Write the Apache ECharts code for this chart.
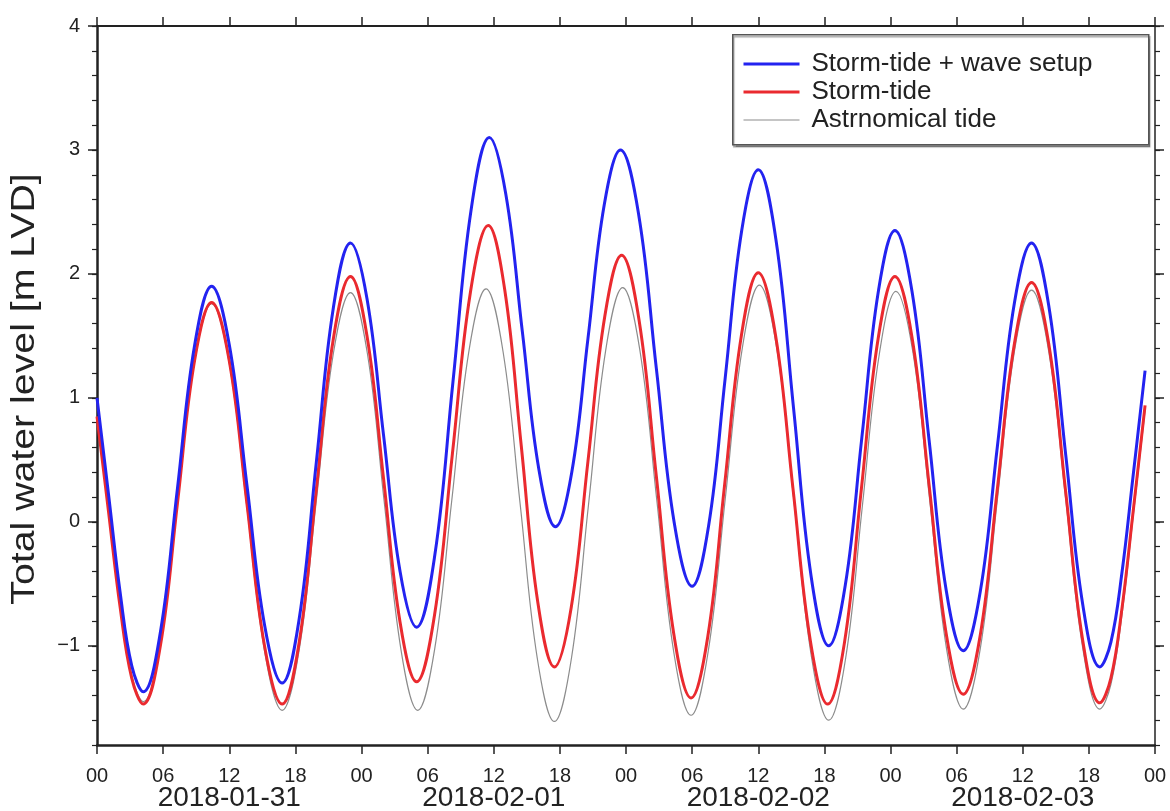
<!DOCTYPE html>
<html>
<head>
<meta charset="utf-8">
<title>Total water level</title>
<script src="https://cdn.jsdelivr.net/npm/echarts@6/dist/echarts.min.js"></script>
<style>
  html, body { margin: 0; padding: 0; background: #fff; }
  #chart { width: 1170px; height: 811px; }
</style>
</head>
<body>
<div id="chart"></div>
<script>
// Hours since 2018-01-31 00:00 and water levels [m LVD] for each series
const setupHours = [0, 1.05, 2.1, 3.15, 4.2, 5.75, 7.3, 8.85, 10.4, 12.0, 13.6, 15.2, 16.8, 18.35, 19.9, 21.45, 23.0,
  24.5, 26.0, 27.5, 29.0, 30.65, 32.3, 33.95, 35.6, 37.1, 38.6, 40.1, 41.6, 43.08, 44.55, 46.03, 47.5,
  49.13, 50.75, 52.38, 54.0, 55.5, 57.0, 58.5, 60.0, 61.6, 63.2, 64.8, 66.4, 67.9, 69.4, 70.9, 72.4,
  73.95, 75.5, 77.05, 78.6, 80.15, 81.7, 83.25, 84.8, 86.35, 87.9, 89.45, 91.0, 92.0, 93.0, 94.0, 95.1];
const setupLevels = [1.00, 0.22, -0.57, -1.16, -1.37, -0.89, 0.27, 1.42, 1.90, 1.43, 0.30, -0.83, -1.30, -0.78, 0.48, 1.73, 2.25,
  1.80, 0.70, -0.40, -0.85, -0.27, 1.13, 2.52, 3.10, 2.64, 1.53, 0.42, -0.04, 0.40, 1.48, 2.56, 3.00,
  2.49, 1.24, -0.01, -0.52, -0.03, 1.16, 2.35, 2.84, 2.28, 0.92, -0.44, -1.00, -0.51, 0.68, 1.86, 2.35,
  1.86, 0.66, -0.55, -1.04, -0.56, 0.61, 1.77, 2.25, 1.75, 0.54, -0.67, -1.17, -0.97, -0.41, 0.36, 1.22];

const stormHours = [0, 1.05, 2.1, 3.15, 4.2, 5.75, 7.3, 8.85, 10.4, 12.0, 13.6, 15.2, 16.8, 18.35, 19.9, 21.45, 23.0,
  24.5, 26.0, 27.5, 29.0, 30.63, 32.25, 33.88, 35.5, 37.0, 38.5, 40.0, 41.5, 43.03, 44.55, 46.08, 47.6,
  49.18, 50.75, 52.33, 53.9, 55.43, 56.95, 58.48, 60.0, 61.58, 63.15, 64.73, 66.3, 67.83, 69.35, 70.88, 72.4,
  73.95, 75.5, 77.05, 78.6, 80.15, 81.7, 83.25, 84.8, 86.35, 87.9, 89.45, 91.0, 92.0, 93.0, 94.0, 95.1];
const stormLevels = [0.85, 0.08, -0.69, -1.26, -1.47, -1.00, 0.15, 1.30, 1.77, 1.30, 0.15, -1.00, -1.47, -0.97, 0.26, 1.48, 1.98,
  1.50, 0.35, -0.81, -1.29, -0.75, 0.55, 1.85, 2.39, 1.87, 0.61, -0.65, -1.17, -0.69, 0.49, 1.66, 2.15,
  1.63, 0.37, -0.90, -1.42, -0.92, 0.30, 1.51, 2.01, 1.50, 0.27, -0.96, -1.47, -0.97, 0.26, 1.48, 1.98,
  1.49, 0.30, -0.90, -1.39, -0.91, 0.27, 1.44, 1.93, 1.44, 0.24, -0.96, -1.46, -1.26, -0.70, 0.07, 0.94];

const tideHours = [0, 1.05, 2.1, 3.15, 4.2, 5.75, 7.3, 8.85, 10.4, 12.0, 13.6, 15.2, 16.8, 18.35, 19.9, 21.45, 23.0,
  24.53, 26.05, 27.58, 29.1, 30.65, 32.2, 33.75, 35.3, 36.85, 38.4, 39.95, 41.5, 43.05, 44.6, 46.15, 47.7,
  49.25, 50.8, 52.35, 53.9, 55.45, 57.0, 58.55, 60.1, 61.68, 63.25, 64.83, 66.4, 67.93, 69.45, 70.98, 72.5,
  74.03, 75.55, 77.08, 78.6, 80.15, 81.7, 83.25, 84.8, 86.35, 87.9, 89.45, 91.0, 92.0, 93.0, 94.0, 95.1];
const tideLevels = [0.85, 0.09, -0.68, -1.24, -1.45, -0.98, 0.16, 1.29, 1.76, 1.28, 0.12, -1.04, -1.52, -1.03, 0.17, 1.36, 1.85,
  1.36, 0.17, -1.03, -1.52, -1.02, 0.18, 1.38, 1.88, 1.37, 0.14, -1.10, -1.61, -1.10, 0.14, 1.38, 1.89,
  1.39, 0.17, -1.06, -1.56, -1.05, 0.18, 1.40, 1.91, 1.40, 0.16, -1.09, -1.60, -1.10, 0.13, 1.35, 1.86,
  1.37, 0.18, -1.02, -1.51, -1.02, 0.18, 1.38, 1.87, 1.38, 0.18, -1.02, -1.51, -1.31, -0.75, 0.03, 0.90];

const seriesNames = ['Storm-tide + wave setup', 'Storm-tide', 'Astrnomical tide'];
const dayLabels = ['2018-01-31', '2018-02-01', '2018-02-02', '2018-02-03'];
const levelTicks = [-1, 0, 1, 2, 3, 4];
const yTitle = 'Total water level [m LVD]';

const FONT = '"Liberation Sans", Arial, Helvetica, sans-serif';
const INK = '#222';
const COLORS = ['#2323f0', '#ea2a2f', '#8c8c8c'];
const WIDTHS = [3, 3, 1.2];

function pairs(hours, levels) {
  return hours.map((h, i) => [h, levels[i]]);
}
function hourLabel(v) {
  const h = Math.round(v) % 24;
  return (h < 10 ? '0' : '') + h;
}
function levelLabel(v) {
  return v < 0 ? '\u2212' + Math.abs(v) : String(v);
}

const chart = echarts.init(document.getElementById('chart'), null, { renderer: 'canvas' });

const xBase = { type: 'value', min: 0, max: 96, splitLine: { show: false } };
const yBase = { type: 'value', min: -1.8, max: 4, splitLine: { show: false } };

function lineSeries(idx, hours, levels, z) {
  return {
    name: seriesNames[idx], type: 'line', xAxisIndex: 0, yAxisIndex: 0,
    data: pairs(hours, levels),
    smooth: 0.4, symbol: 'none', showSymbol: false,
    lineStyle: { color: COLORS[idx], width: WIDTHS[idx] }, itemStyle: { color: COLORS[idx] }, z
  };
}

const option = {
  backgroundColor: '#fff',
  animation: false,
  textStyle: { fontFamily: FONT, color: INK },
  grid: { left: 97, right: 15, top: 26, bottom: 66, containLabel: false, outerBoundsMode: 'none' },
  xAxis: [
    Object.assign({}, xBase, {
      position: 'bottom', interval: 6,
      axisLine: { show: true, onZero: false, lineStyle: { color: INK, width: 2.5 } },
      axisTick: { show: true, inside: false, length: 9, lineStyle: { color: INK, width: 1.5 } },
      axisLabel: { show: true, formatter: hourLabel, fontSize: 20, color: INK, margin: 21, fontFamily: FONT,
        showMinLabel: true, showMaxLabel: true }
    }),
    Object.assign({}, xBase, {
      position: 'bottom', interval: 12,
      axisLine: { show: false, onZero: false },
      axisTick: { show: false },
      axisLabel: { show: true, fontSize: 28, color: INK, margin: 39, fontFamily: FONT,
        formatter: v => (Math.round(v) % 24 === 12 ? dayLabels[Math.floor(v / 24)] : '') }
    }),
    Object.assign({}, xBase, {
      position: 'top', interval: 6,
      axisLine: { show: true, onZero: false, lineStyle: { color: INK, width: 2 } },
      axisTick: { show: true, inside: false, length: 9, lineStyle: { color: INK, width: 1.5 } },
      axisLabel: { show: false }
    })
  ],
  yAxis: [
    Object.assign({}, yBase, {
      position: 'left',
      axisLine: { show: true, onZero: false, lineStyle: { color: INK, width: 2.5 } },
      axisTick: { show: true, inside: false, length: 9, customValues: levelTicks, lineStyle: { color: INK, width: 1.5 } },
      axisLabel: { show: true, customValues: levelTicks, formatter: levelLabel, fontSize: 20, color: INK, margin: 17, fontFamily: FONT }
    }),
    Object.assign({}, yBase, {
      position: 'left', interval: 0.2,
      axisLine: { show: false, onZero: false },
      axisTick: { show: true, inside: false, length: 5, lineStyle: { color: INK, width: 1.2 } },
      axisLabel: { show: false }
    }),
    Object.assign({}, yBase, {
      position: 'right',
      axisLine: { show: true, onZero: false, lineStyle: { color: INK, width: 1.5 } },
      axisTick: { show: true, inside: false, length: 9, customValues: levelTicks, lineStyle: { color: INK, width: 1.5 } },
      axisLabel: { show: false }
    }),
    Object.assign({}, yBase, {
      position: 'right', interval: 0.2,
      axisLine: { show: false, onZero: false },
      axisTick: { show: true, inside: false, length: 5, lineStyle: { color: INK, width: 1.2 } },
      axisLabel: { show: false }
    })
  ],
  legend: {
    data: seriesNames.map((name, i) => ({ name, lineStyle: { width: WIDTHS[i], color: COLORS[i] } })),
    orient: 'vertical',
    left: 742, top: 50,
    itemWidth: 56, itemHeight: 12, itemGap: 0,
    padding: 0,
    itemStyle: { opacity: 0 },
    textStyle: { fontSize: 26, color: INK, lineHeight: 28, padding: [0, 0, 0, 7], fontFamily: FONT },
    z: 6
  },
  graphic: [
    {
      // legend frame
      type: 'rect',
      left: 732, top: 34, z: 5,
      shape: { width: 416, height: 110 },
      style: { fill: '#fff', stroke: '#555', lineWidth: 1.5,
        shadowColor: 'rgba(0,0,0,0.35)', shadowOffsetX: 1, shadowOffsetY: 2, shadowBlur: 1 }
    },
    {
      // y-axis title, read bottom to top
      type: 'text',
      x: 25, y: 389, rotation: Math.PI / 2, scaleX: 1.19, scaleY: 1, z: 5,
      style: { text: yTitle, font: '33px ' + FONT, fill: INK, align: 'center', verticalAlign: 'middle' }
    }
  ],
  series: [
    lineSeries(2, tideHours, tideLevels, 2),
    lineSeries(1, stormHours, stormLevels, 3),
    lineSeries(0, setupHours, setupLevels, 4)
  ]
};

chart.setOption(option);
</script>
</body>
</html>
